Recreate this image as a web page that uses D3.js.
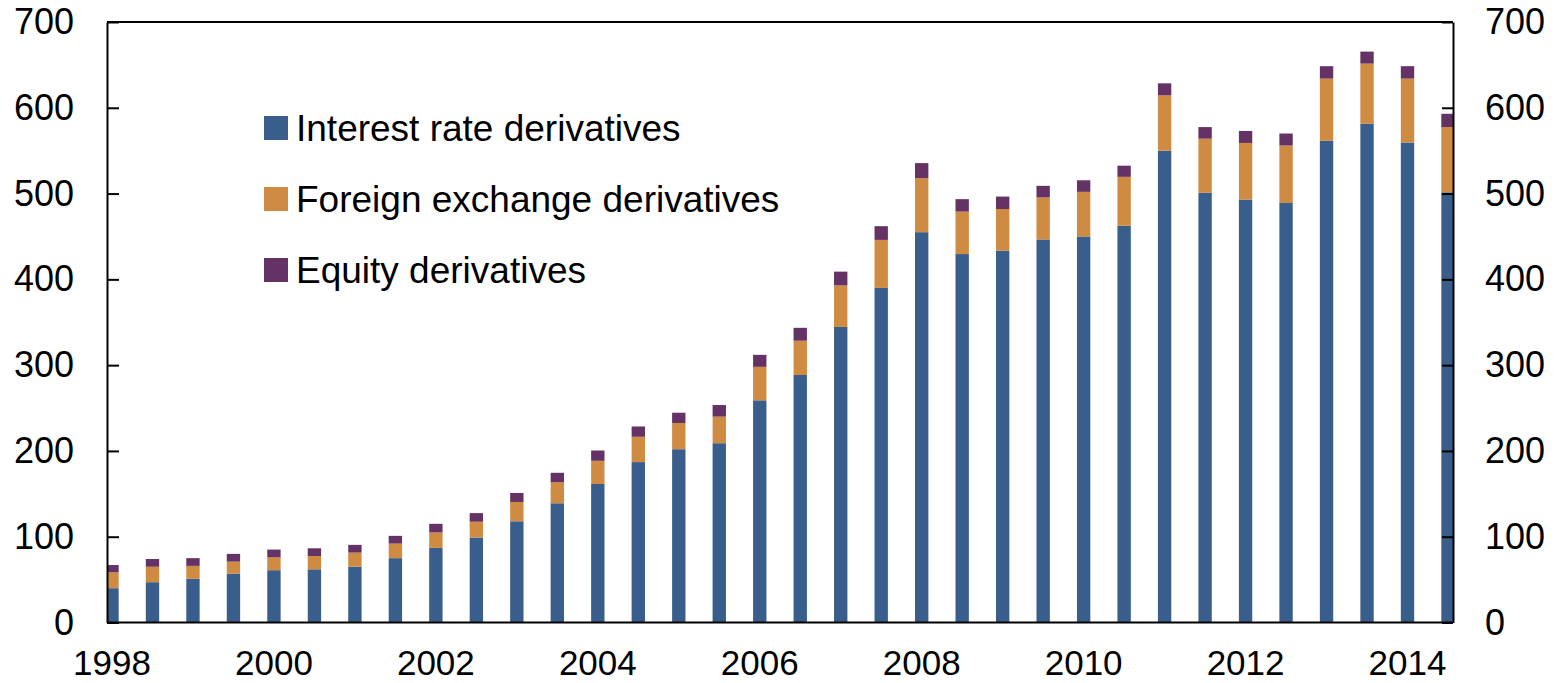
<!DOCTYPE html>
<html>
<head>
<meta charset="utf-8">
<script src="https://cdn.jsdelivr.net/npm/d3@7"></script>
<style>
  body { margin: 0; background: #fff; }
  svg { display: block; font-family: "Liberation Sans", Arial, sans-serif; }
</style>
</head>
<body>
<div id="chart"></div>
<script>
// half-year periods, one bar each
const periods = [
  "1998 H1", "1998 H2", "1999 H1", "1999 H2", "2000 H1", "2000 H2",
  "2001 H1", "2001 H2", "2002 H1", "2002 H2", "2003 H1", "2003 H2",
  "2004 H1", "2004 H2", "2005 H1", "2005 H2", "2006 H1", "2006 H2",
  "2007 H1", "2007 H2", "2008 H1", "2008 H2", "2009 H1", "2009 H2",
  "2010 H1", "2010 H2", "2011 H1", "2011 H2", "2012 H1", "2012 H2",
  "2013 H1", "2013 H2", "2014 H1", "2014 H2"
];
const interestRate = [
  40, 47, 51, 57, 61, 62, 65, 75, 87, 99, 118, 139,
  161.5, 187, 202, 209, 259, 288.5, 344.5, 390, 455, 429.5, 433.5, 446.5,
  450, 462.5, 550, 501, 493, 489, 561.5, 581.5, 559.5, 501.5
];
const foreignExchange = [
  18.5, 18, 15, 14, 15, 15.5, 16.5, 17, 18, 18.5, 22.5, 24.5,
  27, 29.5, 30.5, 31, 39, 40, 48.5, 56, 63, 49.5, 48.5, 49,
  52, 57, 64.5, 63, 66, 67, 72.5, 70, 74.5, 76
];
const equity = [
  8.5, 9, 9, 9, 9, 9, 9, 9, 10, 10, 10.5, 11,
  12, 12, 12, 13.5, 14, 15, 16, 16, 17.5, 14.5, 14.5, 13.5,
  13.5, 13, 14, 13.5, 14, 14, 14.5, 14, 14.5, 15.5
];
const yearTicks = ["1998", "2000", "2002", "2004", "2006", "2008", "2010", "2012", "2014"];
const valueTicks = [0, 100, 200, 300, 400, 500, 600, 700];
const seriesKeys = ["ir", "fx", "eq"];
const seriesNames = ["Interest rate derivatives", "Foreign exchange derivatives", "Equity derivatives"];
const seriesColours = ["#395e8c", "#cf8b41", "#643264"];

const width = 1555, height = 683;
const plot = { left: 107, right: 1453, top: 22, bottom: 622.5 };

const rows = periods.map((p, i) => ({
  period: p, ir: interestRate[i], fx: foreignExchange[i], eq: equity[i]
}));

const svg = d3.select("#chart")
  .append("svg")
  .attr("width", width)
  .attr("height", height);

// bars sit centred on each half-year slot, first and last cut by the frame
const step = (1448 - 112) / (periods.length - 1);
const x = d3.scaleBand()
  .domain(periods)
  .range([112 - step / 2, 1448 + step / 2])
  .paddingInner(0.67)
  .paddingOuter(0.335);

const y = d3.scaleLinear()
  .domain([0, 700])
  .range([plot.bottom, plot.top]);

const stacked = d3.stack().keys(seriesKeys)(rows);

svg.append("clipPath")
  .attr("id", "plot-clip")
  .append("rect")
  .attr("x", plot.left)
  .attr("y", plot.top)
  .attr("width", plot.right - plot.left)
  .attr("height", plot.bottom - plot.top);

svg.append("g")
  .attr("clip-path", "url(#plot-clip)")
  .selectAll("g")
  .data(stacked)
  .join("g")
  .attr("fill", (d, i) => seriesColours[i])
  .selectAll("rect")
  .data(d => d)
  .join("rect")
  .attr("x", d => x(d.data.period))
  .attr("width", x.bandwidth())
  .attr("y", d => y(d[1]))
  .attr("height", d => y(d[0]) - y(d[1]));

function styleAxis(g) {
  g.attr("font-size", 36)
    .attr("font-family", "'Liberation Sans', Arial, sans-serif");
  g.select(".domain").attr("stroke", "#000").attr("stroke-width", 2);
  g.selectAll(".tick line").attr("stroke", "#000").attr("stroke-width", 2);
  g.selectAll(".tick text").attr("fill", "#000");
}

// left axis
svg.append("g")
  .attr("transform", "translate(" + plot.left + ",0)")
  .call(d3.axisLeft(y).tickValues(valueTicks).tickSizeInner(-12).tickSizeOuter(0).tickPadding(33))
  .call(styleAxis);

// right axis
svg.append("g")
  .attr("transform", "translate(" + plot.right + ",0)")
  .call(d3.axisRight(y).tickValues(valueTicks).tickSizeInner(-11).tickSizeOuter(0).tickPadding(32))
  .call(styleAxis);

// bottom axis, labels on the first half of even years
svg.append("g")
  .attr("transform", "translate(0," + plot.bottom + ")")
  .call(d3.axisBottom(x)
    .tickValues(yearTicks.map(t => t + " H1"))
    .tickFormat(d => d.slice(0, 4))
    .tickSize(0)
    .tickPadding(28))
  .call(styleAxis)
  .attr("font-size", 35)
  .call(g => g.select(".domain").attr("d", "M" + plot.left + ",0H" + plot.right));

// top edge of the frame
svg.append("line")
  .attr("x1", plot.left)
  .attr("x2", plot.right)
  .attr("y1", plot.top)
  .attr("y2", plot.top)
  .attr("stroke", "#000")
  .attr("stroke-width", 2);

// legend
const legend = svg.append("g")
  .attr("transform", "translate(264,128)");

const item = legend.selectAll("g")
  .data(seriesNames)
  .join("g")
  .attr("transform", (d, i) => "translate(0," + i * 71 + ")");

item.append("rect")
  .attr("x", 0)
  .attr("y", -12)
  .attr("width", 24)
  .attr("height", 24)
  .attr("fill", (d, i) => seriesColours[i]);

item.append("text")
  .attr("x", 32)
  .attr("dy", "0.36em")
  .attr("font-size", 37)
  .attr("fill", "#000")
  .text(d => d);
</script>
</body>
</html>
